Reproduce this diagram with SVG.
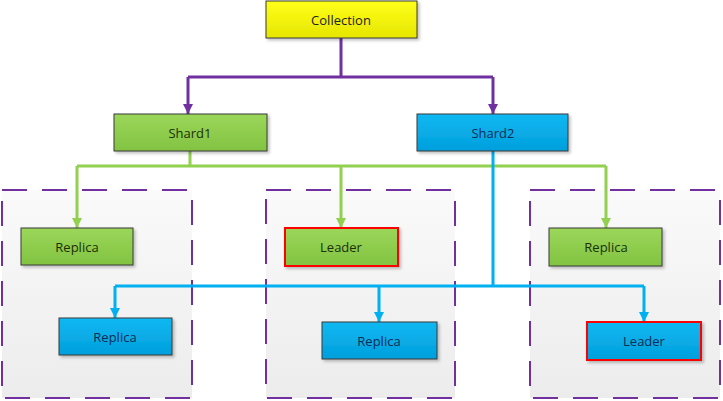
<svg xmlns="http://www.w3.org/2000/svg" width="723" height="401" viewBox="0 0 723 401">
<defs>
<linearGradient id="gY" x1="0" y1="0" x2="0" y2="1"><stop offset="0" stop-color="#ffff1a"/><stop offset="1" stop-color="#e6e600"/></linearGradient>
<linearGradient id="gG" x1="0" y1="0" x2="0" y2="1"><stop offset="0" stop-color="#9bd65a"/><stop offset="1" stop-color="#82c341"/></linearGradient>
<linearGradient id="gB" x1="0" y1="0" x2="0" y2="1"><stop offset="0" stop-color="#12b8f2"/><stop offset="1" stop-color="#009fdc"/></linearGradient>
<linearGradient id="gC" x1="0" y1="0" x2="0" y2="1"><stop offset="0" stop-color="#fafafa"/><stop offset="1" stop-color="#ececec"/></linearGradient>
<filter id="sh" x="-10%" y="-10%" width="130%" height="140%"><feDropShadow dx="2" dy="2" stdDeviation="1.5" flood-color="#000" flood-opacity="0.25"/></filter>
<marker id="aP" viewBox="0 0 10 10" refX="10" refY="5" markerWidth="10" markerHeight="10" markerUnits="userSpaceOnUse" orient="auto"><path d="M0,0 L10,5 L0,10 z" fill="#7030a0"/></marker>
<marker id="aG" viewBox="0 0 10 10" refX="10" refY="5" markerWidth="10" markerHeight="10" markerUnits="userSpaceOnUse" orient="auto"><path d="M0,0 L10,5 L0,10 z" fill="#92d050"/></marker>
<marker id="aB" viewBox="0 0 10 10" refX="10" refY="5" markerWidth="10" markerHeight="10" markerUnits="userSpaceOnUse" orient="auto"><path d="M0,0 L10,5 L0,10 z" fill="#00b0f0"/></marker>
</defs>
<style>
.cont{fill:url(#gC);stroke:#7030a0;stroke-width:2;stroke-dasharray:25 15;}
.box{stroke:#3a3a3a;stroke-width:1;filter:url(#sh);}
.y{fill:url(#gY);}
.g{fill:url(#gG);}
.b{fill:url(#gB);}
.lead{stroke:#ff0000;stroke-width:2;}
text{font-family:"Open Sans","Liberation Sans",sans-serif;font-size:13px;text-anchor:middle;dominant-baseline:central;}
.tg{fill:#1b2f08;}
.tb{fill:#0b2c57;}
.ty{fill:#222;}
.lp{fill:none;stroke:#7030a0;stroke-width:3;}
.lg{fill:none;stroke:#92d050;stroke-width:3;}
.lb{fill:none;stroke:#00b0f0;stroke-width:3;}
</style>
<g id="containers">
<rect id="group1" class="cont" x="2" y="190" width="190" height="208"/>
<rect id="group2" class="cont" x="266" y="190" width="189" height="208"/>
<rect id="group3" class="cont" x="530" y="190" width="190" height="208"/>
</g>
<g id="connectors">
<path class="lp" d="M341,38 V77 M188,77 H493"/>
<path class="lp" d="M188,77 V114" marker-end="url(#aP)"/>
<path class="lp" d="M493,77 V114" marker-end="url(#aP)"/>
<path class="lg" d="M190,151 V166 M77,166 H606"/>
<path class="lg" d="M77,166 V228" marker-end="url(#aG)"/>
<path class="lg" d="M341,166 V228" marker-end="url(#aG)"/>
<path class="lg" d="M606,166 V228" marker-end="url(#aG)"/>
<path class="lb" d="M493,151 V286 M115,286 H644"/>
<path class="lb" d="M115,286 V318" marker-end="url(#aB)"/>
<path class="lb" d="M379,286 V322" marker-end="url(#aB)"/>
<path class="lb" d="M644,286 V322" marker-end="url(#aB)"/>
</g>
<g id="collection"><rect class="box y" x="266" y="1" width="151" height="37"/><text class="ty" x="341" y="19.5">Collection</text></g>
<g id="shard1"><rect class="box g" x="114" y="114" width="153" height="37"/><text class="tg" x="190" y="133">Shard1</text></g>
<g id="shard2"><rect class="box b" x="417" y="114" width="151" height="37"/><text class="tb" x="493" y="133">Shard2</text></g>
<g id="replica1"><rect class="box g" x="21" y="228" width="112" height="37"/><text class="tg" x="77" y="247">Replica</text></g>
<g id="leader1"><rect class="box g lead" x="285" y="228" width="113" height="38"/><text class="tg" x="341" y="247">Leader</text></g>
<g id="replica3"><rect class="box g" x="549" y="228" width="113" height="38"/><text class="tg" x="606" y="247">Replica</text></g>
<g id="replica2"><rect class="box b" x="59" y="318" width="113" height="37"/><text class="tb" x="115" y="337">Replica</text></g>
<g id="replica4"><rect class="box b" x="322" y="322" width="115" height="37"/><text class="tb" x="379" y="341">Replica</text></g>
<g id="leader2"><rect class="box b lead" x="587" y="322" width="114" height="38"/><text class="tb" x="644" y="341">Leader</text></g>
</svg>
